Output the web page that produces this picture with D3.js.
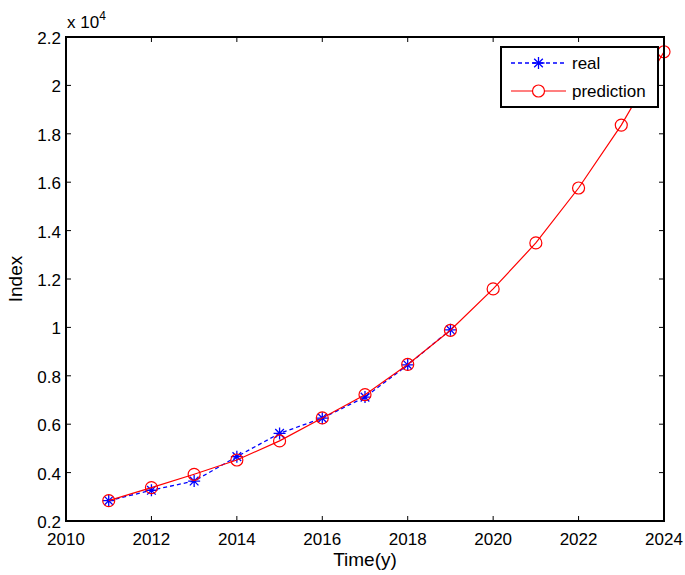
<!DOCTYPE html>
<html>
<head>
<meta charset="utf-8">
<script src="https://cdn.jsdelivr.net/npm/d3@7"></script>
<style>
  body { margin: 0; background: #fff; }
  text { font-family: "Liberation Sans", Arial, sans-serif; fill: #000; }
</style>
</head>
<body>
<svg width="685" height="575"></svg>
<script>
var years = [2011, 2012, 2013, 2014, 2015, 2016, 2017, 2018, 2019, 2020, 2021, 2022, 2023, 2024];
// values in units of 10^4
var realValues = [0.284, 0.327, 0.365, 0.466, 0.562, 0.625, 0.712, 0.845, 0.99];
var predValues = [0.284, 0.338, 0.393, 0.452, 0.531, 0.626, 0.722, 0.847, 0.988, 1.159, 1.349, 1.576, 1.836, 2.139];
var xTicks = [2010, 2012, 2014, 2016, 2018, 2020, 2022, 2024];
var yTicks = [0.2, 0.4, 0.6, 0.8, 1, 1.2, 1.4, 1.6, 1.8, 2, 2.2];

var svg = d3.select("svg"),
    margin = {top: 37, right: 21, bottom: 54, left: 66},
    width = 685 - margin.left - margin.right,
    height = 575 - margin.top - margin.bottom;

var g = svg.append("g")
  .attr("transform", "translate(" + margin.left + "," + margin.top + ")");

var x = d3.scaleLinear().domain([2010, 2024]).range([0, width]);
var y = d3.scaleLinear().domain([0.2, 2.2]).range([height, 0]);

var tickLen = 5;

// ticks on all four sides, pointing inward
g.selectAll(".xt").data(xTicks).enter().append("path")
  .attr("d", function(d) { return "M" + x(d) + "," + height + "v" + (-tickLen) + "M" + x(d) + ",0v" + tickLen; })
  .attr("stroke", "#000").attr("stroke-width", 1);
g.selectAll(".yt").data(yTicks).enter().append("path")
  .attr("d", function(d) { return "M0," + y(d) + "h" + tickLen + "M" + width + "," + y(d) + "h" + (-tickLen); })
  .attr("stroke", "#000").attr("stroke-width", 1);

g.selectAll(".xl").data(xTicks).enter().append("text")
  .attr("x", function(d) { return x(d); })
  .attr("y", height + 24)
  .attr("text-anchor", "middle")
  .attr("font-size", 17)
  .text(function(d) { return d; });

g.selectAll(".yl").data(yTicks).enter().append("text")
  .attr("x", -5)
  .attr("y", function(d) { return y(d) + 7; })
  .attr("text-anchor", "end")
  .attr("font-size", 17)
  .text(function(d) { return d; });

// exponent label
var ex = g.append("text").attr("x", 1).attr("y", -9).attr("font-size", 17);
ex.append("tspan").text("x 10");
ex.append("tspan").attr("dy", -8).attr("font-size", 12).text("4");

// axis titles
svg.append("text")
  .attr("x", margin.left + width / 2)
  .attr("y", 566)
  .attr("text-anchor", "middle")
  .attr("font-size", 19)
  .text("Time(y)");
svg.append("text")
  .attr("transform", "translate(22," + (margin.top + height / 2) + ") rotate(-90)")
  .attr("text-anchor", "middle")
  .attr("font-size", 19)
  .text("Index");

var line = d3.line()
  .x(function(d, i) { return x(years[i]); })
  .y(function(d) { return y(d); });

function star(sel, cx, cy, r) {
  var d = r * 0.72;
  sel.append("path")
    .attr("d", "M" + (cx - r) + "," + cy + "h" + 2 * r + "M" + cx + "," + (cy - r) + "v" + 2 * r +
      "M" + (cx - d) + "," + (cy - d) + "l" + 2 * d + "," + 2 * d +
      "M" + (cx - d) + "," + (cy + d) + "l" + 2 * d + "," + (-2 * d))
    .attr("stroke", "#0000ff").attr("stroke-width", 1.3).attr("fill", "none");
}

// real series
g.append("path").datum(realValues)
  .attr("d", line)
  .attr("fill", "none")
  .attr("stroke", "#0000ff")
  .attr("stroke-width", 1.3)
  .attr("stroke-dasharray", "4,3");
realValues.forEach(function(v, i) { star(g, x(years[i]), y(v), 6); });

// prediction series
g.append("path").datum(predValues)
  .attr("d", line)
  .attr("fill", "none")
  .attr("stroke", "#ff0000")
  .attr("stroke-width", 1.2);
g.selectAll(".pm").data(predValues).enter().append("circle")
  .attr("cx", function(d, i) { return x(years[i]); })
  .attr("cy", function(d) { return y(d); })
  .attr("r", 6)
  .attr("fill", "none")
  .attr("stroke", "#ff0000")
  .attr("stroke-width", 1.2);

// axes box
g.append("rect")
  .attr("width", width).attr("height", height)
  .attr("fill", "none").attr("stroke", "#000").attr("stroke-width", 2);

// legend
var lg = svg.append("g").attr("transform", "translate(501,47)");
lg.append("rect").attr("width", 157).attr("height", 60)
  .attr("fill", "#fff").attr("stroke", "#000").attr("stroke-width", 2);
lg.append("line").attr("x1", 10).attr("x2", 65).attr("y1", 16).attr("y2", 16)
  .attr("stroke", "#0000ff").attr("stroke-width", 1.3).attr("stroke-dasharray", "4,3");
star(lg, 37.5, 16, 6);
lg.append("line").attr("x1", 10).attr("x2", 65).attr("y1", 44).attr("y2", 44)
  .attr("stroke", "#ff0000").attr("stroke-width", 1.2);
lg.append("circle").attr("cx", 37.5).attr("cy", 44).attr("r", 6)
  .attr("fill", "#fff").attr("stroke", "#ff0000").attr("stroke-width", 1.2);
lg.append("text").attr("x", 71).attr("y", 22).attr("font-size", 17).text("real");
lg.append("text").attr("x", 71).attr("y", 50).attr("font-size", 17).text("prediction");
</script>
</body>
</html>
